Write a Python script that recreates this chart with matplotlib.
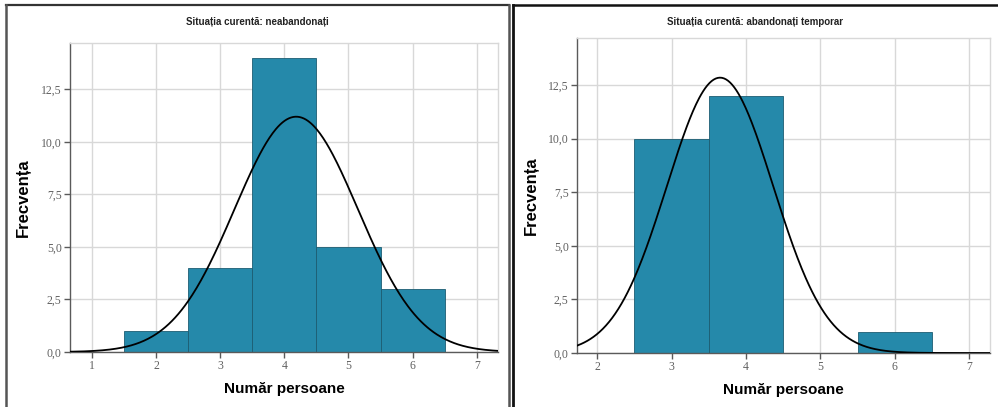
import numpy as np
import matplotlib
matplotlib.use("Agg")
import matplotlib.pyplot as plt
from matplotlib.lines import Line2D
from matplotlib.ticker import FuncFormatter, MultipleLocator

# Histogram data: number of persons in household, by current situation
titles = ["Situația curentă: neabandonați", "Situația curentă: abandonați temporar"]
left_values = [2, 3, 4, 5, 6]
left_counts = [1, 4, 14, 5, 3]
right_values = [3, 4, 6]
right_counts = [10, 12, 1]
left_xticks = [1, 2, 3, 4, 5, 6, 7]
right_xticks = [2, 3, 4, 5, 6, 7]
yticks = [0.0, 2.5, 5.0, 7.5, 10.0, 12.5]
left_xlim = (0.66, 7.33)
right_xlim = (1.73, 7.28)
ylim = (0, 14.7)

W, H = 998, 407
fig = plt.figure(figsize=(W / 100, H / 100), dpi=100)
fig.patch.set_facecolor("white")

BAR = "#2589aa"
BAR_EDGE = "#1d5d72"
GRID = "#d8d8d8"
SPINE = "#5a5a5a"
TICKTXT = "#606060"


def px_axes(left, top, right, bottom):
    return fig.add_axes([left / W, 1 - bottom / H, (right - left) / W, (bottom - top) / H])


def comma_fmt(v, pos):
    return f"{v:.1f}".replace(".", ",")


def draw_panel(ax, values, counts, xticks, xlim, title, title_x):
    values = np.asarray(values, float)
    counts = np.asarray(counts, float)
    n = counts.sum()
    mean = (values * counts).sum() / n
    sd = np.sqrt((counts * (values - mean) ** 2).sum() / (n - 1))

    ax.set_xlim(*xlim)
    ax.set_ylim(*ylim)
    ax.set_axisbelow(True)
    ax.grid(True, color=GRID, lw=1.0)
    ax.set_xticks(xticks)
    ax.yaxis.set_major_locator(MultipleLocator(2.5))
    ax.set_yticks(yticks)
    ax.yaxis.set_major_formatter(FuncFormatter(comma_fmt))

    ax.bar(values, counts, width=1.0, color=BAR, edgecolor=BAR_EDGE, linewidth=0.6, zorder=2)

    xs = np.linspace(xlim[0], xlim[1], 400)
    ys = n * 1.0 / (sd * np.sqrt(2 * np.pi)) * np.exp(-0.5 * ((xs - mean) / sd) ** 2)
    ax.plot(xs, ys, color="black", lw=1.3, zorder=3)

    for s in ("top", "right"):
        ax.spines[s].set_color(GRID)
        ax.spines[s].set_linewidth(1.0)
    for s in ("left", "bottom"):
        ax.spines[s].set_color(SPINE)
        ax.spines[s].set_linewidth(1.0)
    ax.tick_params(axis="both", direction="out", length=4, width=1.0, color=SPINE,
                   labelcolor=TICKTXT, labelsize=8.5, pad=2)
    for lab in ax.get_xticklabels() + ax.get_yticklabels():
        lab.set_fontfamily("Liberation Serif")

    ax.set_xlabel("Număr persoane", fontsize=11, fontweight="bold",
                  fontfamily="Liberation Sans", labelpad=7)
    ax.set_ylabel("Frecvența", fontsize=12, fontweight="bold",
                  fontfamily="Liberation Sans")
    fig.text(title_x / W, 1 - 22 / H, title, ha="center", va="center",
             fontsize=7, fontweight="bold", fontfamily="Liberation Sans", color="#222222")


ax1 = px_axes(70, 43, 498, 352)
draw_panel(ax1, left_values, left_counts, left_xticks, left_xlim, titles[0], 257)
ax1.yaxis.set_label_coords(-39 / 428, 0.5)

ax2 = px_axes(577, 38, 990, 353)
draw_panel(ax2, right_values, right_counts, right_xticks, right_xlim, titles[1], 755)
ax2.yaxis.set_label_coords(-38 / 413, 0.5)

# Panel frames
def fline(x0, y0, x1, y1, color, lw):
    fig.add_artist(Line2D([x0 / W, x1 / W], [1 - y0 / H, 1 - y1 / H],
                          color=color, lw=lw, transform=fig.transFigure))

fline(6, 5, 509, 5, "#333333", 1.6)
fline(6, 5, 6, H, "#555555", 1.8)
fline(509, 5, 509, H, "#555555", 1.8)
fline(513, 5, W, 5, "#111111", 1.8)
fline(513, 5, 513, H, "#111111", 2.0)

fig.savefig("out.png", dpi=100, facecolor="white")
